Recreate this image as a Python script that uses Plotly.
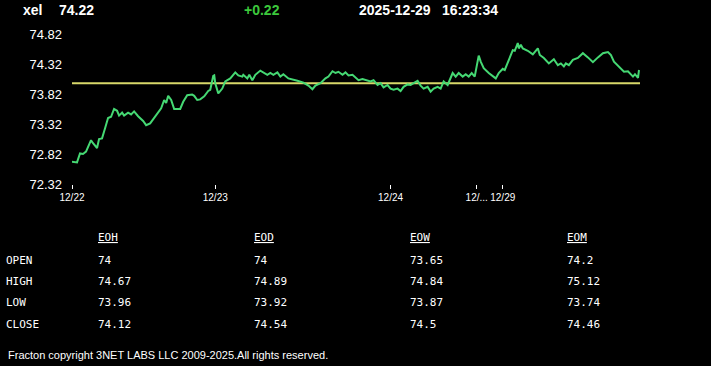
import plotly.graph_objects as go

# ---- data ----
symbol = "xel"
last_price = "74.22"
change = "+0.22"
date_str = "2025-12-29"
time_str = "16:23:34"
prev_close = 74.0

t_idx = [0, 5, 8, 11, 14, 19, 21, 25, 27, 30, 33, 36, 39, 42, 45, 47, 50, 52, 56, 59,
         62, 66, 71, 74, 78, 81, 85, 89, 92, 94, 96, 99, 102, 108, 111, 115, 120, 122, 125, 128,
         132, 136, 138, 141, 142, 143, 146, 150, 153, 158, 163, 166, 170, 171, 175, 177, 180, 183, 188, 191,
         195, 198, 201, 205, 208, 211, 216, 225, 231, 236, 240, 243, 248, 253, 256, 260, 263, 266, 270, 273,
         276, 280, 283, 286, 290, 295, 298, 301, 305, 308, 311, 315, 318, 321, 325, 328, 331, 335, 338, 341,
         345, 348, 351, 355, 358, 361, 365, 368, 371, 375, 377, 380, 383, 386, 390, 393, 396, 399, 402, 404,
         406, 408, 411, 416, 423, 426, 430, 432, 436, 440, 442, 445, 446, 448, 450, 455, 460, 465, 467, 471,
         476, 481, 485, 488, 491, 493, 496, 500, 505, 510, 515, 520, 525, 530, 535, 538, 541, 546, 551, 555,
         560, 562, 565, 566]
price = [72.69, 72.68, 72.83, 72.82, 72.86, 73.05, 73.00, 72.92, 73.07, 73.08, 73.25, 73.42, 73.44, 73.57, 73.54, 73.46, 73.51, 73.46, 73.51, 73.48,
         73.53, 73.45, 73.37, 73.30, 73.33, 73.40, 73.50, 73.58, 73.72, 73.67, 73.79, 73.72, 73.57, 73.57, 73.69, 73.80, 73.81, 73.79, 73.72, 73.73,
         73.78, 73.87, 73.89, 74.12, 74.13, 74.00, 73.83, 73.91, 74.03, 74.08, 74.18, 74.13, 74.11, 74.14, 74.08, 74.14, 74.05, 74.14, 74.21, 74.18,
         74.14, 74.17, 74.14, 74.18, 74.11, 74.15, 74.08, 74.04, 74.01, 73.96, 73.90, 73.96, 74.00, 74.08, 74.11, 74.20, 74.17, 74.19, 74.14, 74.18,
         74.13, 74.14, 74.09, 74.05, 74.07, 74.05, 74.03, 74.05, 73.97, 74.00, 73.93, 73.97, 73.91, 73.89, 73.91, 73.87, 73.94, 73.98, 73.97, 74.00,
         74.04, 73.96, 73.91, 73.94, 73.86, 73.91, 73.94, 73.91, 74.03, 73.97, 74.05, 74.17, 74.11, 74.17, 74.11, 74.15, 74.11, 74.17, 74.11, 74.30,
         74.46, 74.36, 74.25, 74.17, 74.08, 74.17, 74.24, 74.22, 74.39, 74.55, 74.54, 74.67, 74.58, 74.64, 74.58, 74.54, 74.48, 74.58, 74.47, 74.42,
         74.33, 74.40, 74.30, 74.33, 74.28, 74.33, 74.30, 74.39, 74.42, 74.50, 74.43, 74.35, 74.43, 74.50, 74.52, 74.47, 74.36, 74.28, 74.19, 74.20,
         74.11, 74.15, 74.09, 74.22]

x_tick_idx = [0, 143, 318, 404, 430]
x_tick_text = ["12/22", "12/23", "12/24", "12/...", "12/29"]
y_ticks = [72.32, 72.82, 73.32, 73.82, 74.32, 74.82]

table_cols = ["EOH", "EOD", "EOW", "EOM"]
table_rows = ["OPEN", "HIGH", "LOW", "CLOSE"]
table_vals = [
    ["74", "74", "73.65", "74.2"],
    ["74.67", "74.89", "74.84", "75.12"],
    ["73.96", "73.92", "73.87", "73.74"],
    ["74.12", "74.54", "74.5", "74.46"],
]
footer = "Fracton copyright 3NET LABS LLC 2009-2025.All rights reserved."

# ---- layout geometry ----
W, H = 711, 366
L, R, T, B = 72, 71, 34, 182
PW = W - L - R
PH = H - T - B


def px(x):
    # annotation boxes add ~3px of padding before the text
    return (x - 3 - L) / PW


def py(y):
    return (H - B - y) / PH


fig = go.Figure()
x_end = t_idx[-1] + 1
fig.add_trace(go.Scatter(x=[0, x_end], y=[prev_close, prev_close], mode="lines",
                         line=dict(color="#d8d86a", width=2), hoverinfo="skip"))
fig.add_trace(go.Scatter(x=t_idx, y=price, mode="lines",
                         line=dict(color="#45d873", width=2)))

ann = []
hdr_font = dict(family="Liberation Sans, Arial", size=14, color="white")
ann.append(dict(x=px(24), y=py(10), text=f"<b>{symbol}</b>", font=hdr_font, xanchor="left"))
ann.append(dict(x=px(60), y=py(10), text=f"<b>{last_price}</b>", font=hdr_font, xanchor="left"))
ann.append(dict(x=px(245), y=py(10), text=f"<b>{change}</b>",
                font=dict(family="Liberation Sans, Arial", size=14, color="#3cc83c"), xanchor="left"))
ann.append(dict(x=px(360), y=py(10), text=f"<b>{date_str}</b>", font=hdr_font, xanchor="left"))
ann.append(dict(x=px(443), y=py(10), text=f"<b>{time_str}</b>", font=hdr_font, xanchor="left"))

mono = dict(family="DejaVu Sans Mono, monospace", size=11, color="white")
col_x = [99, 255, 411, 568]
row_y = [260, 281, 302, 324]
for cx, name in zip(col_x, table_cols):
    ann.append(dict(x=px(cx), y=py(238), text=f"<u>{name}</u>", font=mono, xanchor="left"))
for ry, rname, vals in zip(row_y, table_rows, table_vals):
    ann.append(dict(x=px(7), y=py(ry), text=rname, font=mono, xanchor="left"))
    for cx, v in zip(col_x, vals):
        ann.append(dict(x=px(cx), y=py(ry), text=v, font=mono, xanchor="left"))
ann.append(dict(x=px(9), y=py(355), text=footer,
                font=dict(family="Liberation Sans, Arial", size=11, color="white"), xanchor="left"))

for a in ann:
    a.update(xref="paper", yref="paper", showarrow=False, yanchor="middle")

fig.update_layout(
    width=W, height=H,
    margin=dict(l=L, r=R, t=T, b=B, pad=0),
    paper_bgcolor="black", plot_bgcolor="black",
    showlegend=False,
    annotations=ann,
    xaxis=dict(range=[0, x_end], tickvals=x_tick_idx, ticktext=x_tick_text,
               showgrid=False, zeroline=False, showline=False,
               ticks="outside", ticklen=4, tickwidth=1, tickcolor="white",
               tickfont=dict(family="Liberation Sans, Arial", size=10, color="white")),
    yaxis=dict(range=[72.32, 74.82], tickvals=y_ticks, ticktext=[f"{v:.2f}" for v in y_ticks],
               showgrid=False, zeroline=False, showline=False, ticks="",
               ticklabelstandoff=9,
               tickfont=dict(family="Liberation Sans, Arial", size=13, color="white")),
)

fig.write_html("out.html", config={"displayModeBar": False},
               post_script="document.body.style.margin='0';document.body.style.padding='0';"
                           "document.body.style.background='black';")
